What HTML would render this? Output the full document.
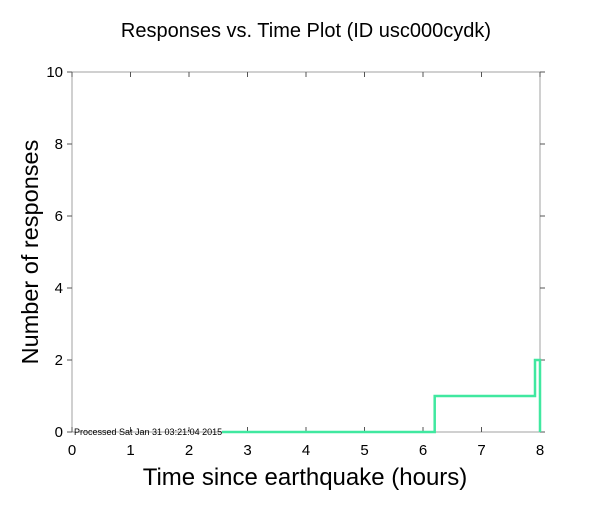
<!DOCTYPE html>
<html><head><style>body{margin:0;background:#fff}</style></head><body>
<svg width="612" height="504" xmlns="http://www.w3.org/2000/svg" font-family="Liberation Sans, sans-serif">
<rect width="612" height="504" fill="#fff"/>
<text x="306" y="37" font-size="20" text-anchor="middle" fill="#000">Responses vs. Time Plot (ID usc000cydk)</text>
<rect x="72" y="72" width="468" height="360" fill="none" stroke="#a0a0a0" stroke-width="1"/>
<g stroke="#555" stroke-width="1">
<line x1="72" y1="432" x2="72" y2="427"/><line x1="130.5" y1="432" x2="130.5" y2="427"/><line x1="189" y1="432" x2="189" y2="427"/><line x1="247.5" y1="432" x2="247.5" y2="427"/><line x1="306" y1="432" x2="306" y2="427"/><line x1="364.5" y1="432" x2="364.5" y2="427"/><line x1="423" y1="432" x2="423" y2="427"/><line x1="481.5" y1="432" x2="481.5" y2="427"/><line x1="540" y1="432" x2="540" y2="427"/>
<line x1="72" y1="72" x2="72" y2="77"/><line x1="130.5" y1="72" x2="130.5" y2="77"/><line x1="189" y1="72" x2="189" y2="77"/><line x1="247.5" y1="72" x2="247.5" y2="77"/><line x1="306" y1="72" x2="306" y2="77"/><line x1="364.5" y1="72" x2="364.5" y2="77"/><line x1="423" y1="72" x2="423" y2="77"/><line x1="481.5" y1="72" x2="481.5" y2="77"/><line x1="540" y1="72" x2="540" y2="77"/>
<line x1="67" y1="432" x2="72" y2="432"/><line x1="67" y1="360" x2="72" y2="360"/><line x1="67" y1="288" x2="72" y2="288"/><line x1="67" y1="216" x2="72" y2="216"/><line x1="67" y1="144" x2="72" y2="144"/><line x1="67" y1="72" x2="72" y2="72"/>
<line x1="540" y1="432" x2="545" y2="432"/><line x1="540" y1="360" x2="545" y2="360"/><line x1="540" y1="288" x2="545" y2="288"/><line x1="540" y1="216" x2="545" y2="216"/><line x1="540" y1="144" x2="545" y2="144"/><line x1="540" y1="72" x2="545" y2="72"/>
</g>
<g font-size="15" fill="#000" text-anchor="middle">
<text x="72" y="455">0</text><text x="130.5" y="455">1</text><text x="189" y="455">2</text><text x="247.5" y="455">3</text><text x="306" y="455">4</text><text x="364.5" y="455">5</text><text x="423" y="455">6</text><text x="481.5" y="455">7</text><text x="540" y="455">8</text>
</g>
<g font-size="15" fill="#000" text-anchor="end">
<text x="63" y="437">0</text><text x="63" y="365">2</text><text x="63" y="293">4</text><text x="63" y="221">6</text><text x="63" y="149">8</text><text x="63" y="77">10</text>
</g>
<text x="305" y="485" font-size="24" text-anchor="middle">Time since earthquake (hours)</text>
<text transform="translate(38,252) rotate(-90)" font-size="23.5" text-anchor="middle">Number of responses</text>
<polyline points="222,432 434.7,432 434.7,396 535,396 535,360 540,360 540,432" fill="none" stroke="#40e8a0" stroke-width="2.5"/>
<text x="74" y="435" font-size="9" fill="#000">Processed Sat Jan 31 03:21:04 2015</text>
</svg>
</body></html>
